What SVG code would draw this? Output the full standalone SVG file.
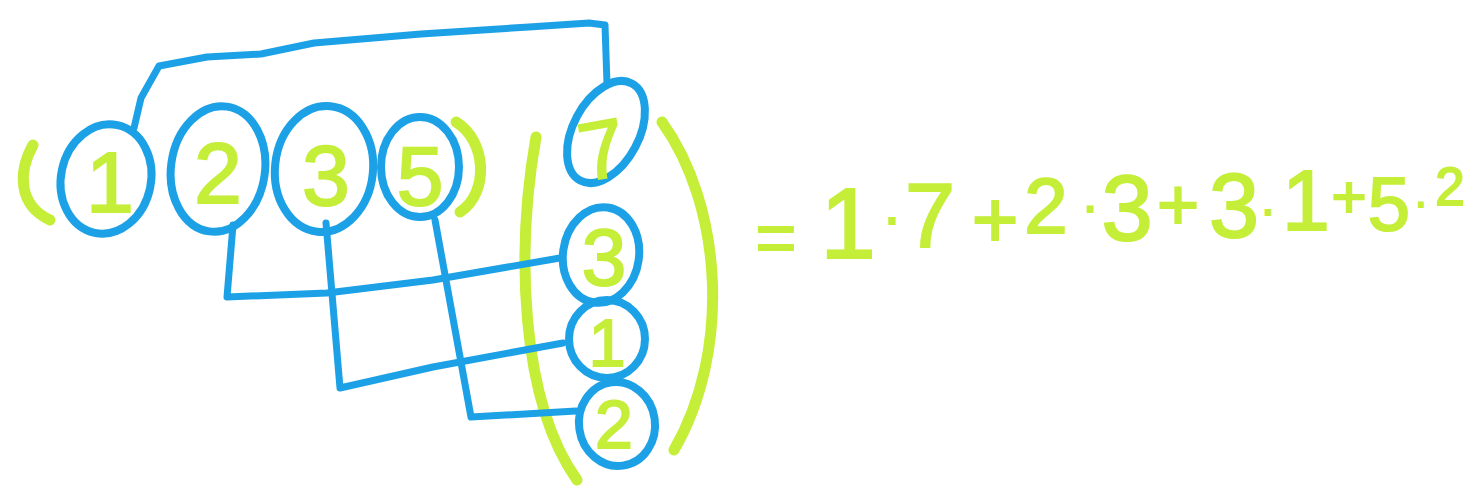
<svg xmlns="http://www.w3.org/2000/svg" width="1471" height="495" viewBox="0 0 1471 495">
<style>
.bg{fill:#ffffff}
.ring{fill:none;stroke:#1da1e6;stroke-width:8}
.wire{fill:none;stroke:#1da1e6;stroke-width:7;stroke-linecap:round;stroke-linejoin:round}
.paren{fill:none;stroke:#c4ee38;stroke-width:11;stroke-linecap:round}
.dig{fill:#c4ee38;stroke:#c4ee38;stroke-width:2;font-family:"Liberation Sans",Arial,sans-serif;text-anchor:middle}
.eq{fill:#c4ee38;stroke:#c4ee38;stroke-width:2;font-family:"Liberation Sans",Arial,sans-serif;text-anchor:middle}
</style>
<rect class="bg" x="0" y="0" width="1471" height="495"/>
<g id="brackets">
<path class="paren" d="M33,145 C18,172 18,205 50,220"/>
<path class="paren" d="M456,122 C486,140 490,192 460,212"/>
<path class="paren" d="M536,137 C516,250 520,400 577,480"/>
<path class="paren" d="M662,122 C722,205 732,350 674,450"/>
</g>
<g id="connectors">
<path class="wire" d="M134,128 L141,98 L159,66 L207,57 L261,54 L314,43 L421,34 L529,27 L589,23 L605,25 L607,84"/>
<path class="wire" d="M233,225 L227,297 L327,293 L433,280 L560,258"/>
<path class="wire" d="M326,223 L340,388 L433,367 L563,343"/>
<path class="wire" d="M435,220 L471,417 L576,411"/>
</g>
<g id="row-1">
<ellipse class="ring" cx="106" cy="179" rx="45" ry="55" transform="rotate(12 106 179)"/>
<text class="dig" x="110" y="212" font-size="86">1</text>
</g>
<g id="row-2">
<ellipse class="ring" cx="218" cy="169" rx="47" ry="63" transform="rotate(8 218 169)"/>
<text class="dig" x="218" y="203" font-size="86">2</text>
</g>
<g id="row-3">
<ellipse class="ring" cx="324" cy="169" rx="49" ry="63" transform="rotate(6 324 169)"/>
<text class="dig" x="326" y="205" font-size="86">3</text>
</g>
<g id="row-5">
<ellipse class="ring" cx="420" cy="167" rx="39" ry="50"/>
<text class="dig" x="420" y="205" font-size="84">5</text>
</g>
<g id="col-7">
<ellipse class="ring" cx="606" cy="132" rx="33" ry="55" transform="rotate(28 606 132)"/>
<text class="dig" x="602" y="178" font-size="82" transform="rotate(-10 602 150)">7</text>
</g>
<g id="col-3">
<ellipse class="ring" cx="601" cy="255" rx="38" ry="48" transform="rotate(8 601 255)"/>
<text class="dig" x="604" y="285" font-size="80">3</text>
</g>
<g id="col-1">
<ellipse class="ring" cx="607" cy="339" rx="38" ry="39"/>
<text class="dig" x="607" y="366" font-size="66">1</text>
</g>
<g id="col-2">
<ellipse class="ring" cx="617" cy="424" rx="38" ry="42" transform="rotate(-8 617 424)"/>
<text class="dig" x="614" y="448" font-size="68">2</text>
</g>
<g id="equation">
<text class="eq"><tspan x="776" y="262" font-size="70">=</tspan><tspan x="848" y="258" font-size="100">1</tspan><tspan x="892" y="236" font-size="55">·</tspan><tspan x="930" y="247" font-size="90">7</tspan><tspan x="995" y="247" font-size="80">+</tspan><tspan x="1046" y="233" font-size="78">2</tspan><tspan x="1090" y="223" font-size="50">·</tspan><tspan x="1127" y="240" font-size="92">3</tspan><tspan x="1178" y="229" font-size="72">+</tspan><tspan x="1234" y="237" font-size="90">3</tspan><tspan x="1268" y="225" font-size="46">·</tspan><tspan x="1306" y="230" font-size="86">1</tspan><tspan x="1349" y="217" font-size="60">+</tspan><tspan x="1389" y="230" font-size="76">5</tspan><tspan x="1421" y="216" font-size="40">·</tspan><tspan x="1450" y="205" font-size="53">2</tspan></text>
</g>
</svg>
